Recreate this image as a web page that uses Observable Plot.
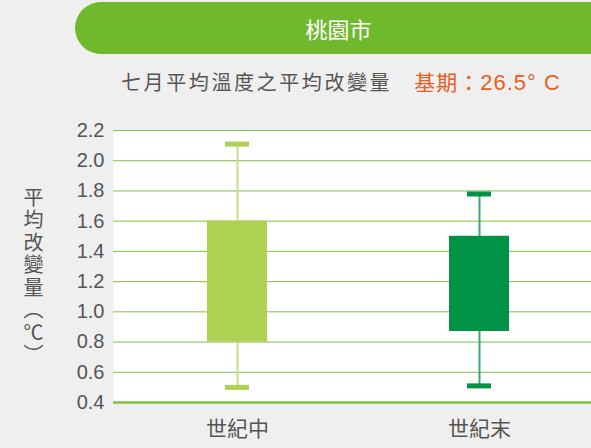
<!DOCTYPE html>
<html>
<head>
<meta charset="utf-8">
<script src="https://cdn.jsdelivr.net/npm/d3@7"></script>
<script src="https://cdn.jsdelivr.net/npm/@observablehq/plot@0.6"></script>
<style>
  html, body { margin: 0; padding: 0; background: #efefef; overflow: hidden; }
  #wrap { position: relative; width: 591px; height: 448px; background: #efefef; font-family: "Noto Sans CJK TC", "Noto Sans", sans-serif; }
  #pill { position: absolute; left: 75px; top: 2px; width: 540px; height: 52px; border-radius: 26px; background: #70b82e; }
  #title { position: absolute; left: 0; width: 591px; top: 13px; text-align: center; padding-left: 86px; box-sizing: border-box; color: #fff; font-size: 22px; line-height: 30px; }
  #subtitle { position: absolute; left: 121px; top: 66px; font-size: 20px; line-height: 30px; color: #555; white-space: nowrap; letter-spacing: 2.6px; }
  #subtitle .base { color: #e95e1c; letter-spacing: 1px; margin-left: 22px; font-size: 21px; }
  #subtitle .num { font-family: "Liberation Sans", Arial, sans-serif; letter-spacing: 1px; font-size: 22px; }
  #ylabel { position: absolute; left: 21px; top: 187px; writing-mode: vertical-rl; font-size: 20px; line-height: 24px; color: #555; letter-spacing: 2.5px; }
  #chart { position: absolute; left: 0; top: 0; }
</style>
</head>
<body>
<div id="wrap">
  <div id="pill"></div>
  <div id="title">桃園市</div>
  <div id="subtitle">七月平均溫度之平均改變量<span class="base">基期：<span class="num">26.5° C</span></span></div>
  <div id="chart"></div>
  <div id="ylabel">平均改變量（℃）</div>
</div>
<script>
const periods = ["世紀中", "世紀末"];
const minVals = [0.50, 0.51];
const q1Vals  = [0.80, 0.87];
const q3Vals  = [1.60, 1.50];
const maxVals = [2.11, 1.78];
const boxColors = ["#aed053", "#009245"];
const whiskerColors = ["#c5df8f", "#3ea86b"];
const yTicks = [0.4, 0.6, 0.8, 1.0, 1.2, 1.4, 1.6, 1.8, 2.0, 2.2];

const data = periods.map((p, i) => ({
  period: p, min: minVals[i], q1: q1Vals[i], q3: q3Vals[i], max: maxVals[i],
  color: boxColors[i], wcolor: whiskerColors[i]
}));

const grid = "#7cc243";

const chart = Plot.plot({
  width: 591,
  height: 448,
  marginLeft: 113,
  marginRight: 0,
  marginTop: 130,
  marginBottom: 46,
  style: { background: "transparent", fontFamily: "'Liberation Sans', Roboto, sans-serif" },
  x: {
    type: "band",
    domain: periods,
    range: [116, 600],
    paddingInner: 0.752,
    paddingOuter: 0.376,
    label: null
  },
  y: {
    domain: [0.4, 2.2],
    label: null
  },
  marks: [
    Plot.frame({ fill: "white", stroke: null }),
    Plot.ruleY(yTicks, { stroke: grid, strokeWidth: 1 }),
    Plot.ruleY([yTicks[0]], { stroke: grid, strokeWidth: 2.5 }),
    Plot.ruleX(data, { x: "period", y1: "min", y2: "max", stroke: "wcolor", strokeWidth: 2 }),
    Plot.barY(data, { x: "period", y1: "q1", y2: "q3", fill: "color" }),
    Plot.tickY(data, { x: "period", y: "max", stroke: "color", strokeWidth: 5, insetLeft: 18, insetRight: 18 }),
    Plot.tickY(data, { x: "period", y: "min", stroke: "color", strokeWidth: 5, insetLeft: 18, insetRight: 18 }),
    Plot.axisY(yTicks, {
      tickSize: 0, tickPadding: 9, tickFormat: d3.format(".1f"),
      fontSize: 20, fill: "#555", label: null
    }),
    Plot.axisX({
      tickSize: 0, tickPadding: 19, fontSize: 21, fill: "#555", label: null,
      fontFamily: "Noto Sans CJK TC"
    })
  ]
});
document.getElementById("chart").appendChild(chart);
</script>
</body>
</html>
